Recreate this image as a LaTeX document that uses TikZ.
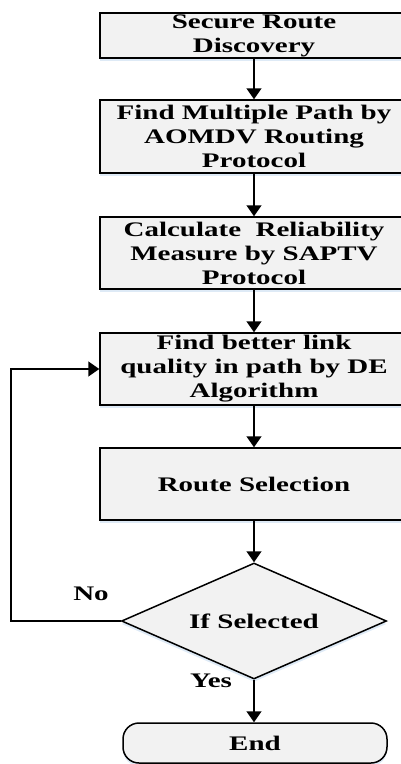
\documentclass[tikz,border=0pt]{standalone}
\usepackage{fontspec}
\usetikzlibrary{arrows.meta,shapes.geometric,shadows}
\newfontfamily\flowfont{Liberation Serif}[FakeStretch=1.4]
\definecolor{boxgray}{RGB}{242,242,242}
\definecolor{shadeblue}{RGB}{200,220,240}

\tikzset{
  flowbox/.style={draw, line width=1.5pt, fill=boxgray, align=center,
    minimum width=308pt, inner sep=0pt,
    drop shadow={shadow xshift=0pt, shadow yshift=-3pt, fill=shadeblue, opacity=.6}},
  flowtext/.style={font=\flowfont\bfseries\fontsize{20.7}{24}\selectfont},
  flowarrow/.style={line width=1.5pt, -{Triangle[width=15pt,length=11pt]}}
}

\begin{document}
\begin{tikzpicture}[x=1pt,y=-1pt]
  \useasboundingbox (0,0) rectangle (401,764);
  \clip (0,0) rectangle (401,764);
  \node[flowbox,flowtext,minimum height=45pt] (disc) at (254,35.5) {Secure Route\\Discovery};
  \node[flowbox,flowtext,minimum height=73pt] (aomdv) at (254,136.5) {Find Multiple Path by\\AOMDV Routing\\Protocol};
  \node[flowbox,flowtext,minimum height=72pt] (saptv) at (254,253) {Calculate~ Reliability\\Measure by SAPTV\\Protocol};
  \node[flowbox,flowtext,minimum height=72pt] (de) at (254,369) {Find better link\\quality in path by DE\\Algorithm};
  \node[flowbox,flowtext,minimum height=72pt] (select) at (254,484) {Route Selection};
  \node[flowbox,flowtext,diamond,aspect=2.28,minimum width=265pt,minimum height=116pt] (check) at (254,621) {If Selected};
  \node[flowbox,flowtext,minimum width=264pt,minimum height=40pt,rounded corners=16pt] (stop) at (255,743) {End};
  \node[flowtext] (no) at (91,594) {No};
  \node[flowtext] (yes) at (211,681) {Yes};
  \draw[flowarrow] (disc) -- (aomdv);
  \draw[flowarrow] (aomdv) -- (saptv);
  \draw[flowarrow] (saptv) -- (de);
  \draw[flowarrow] (de) -- (select);
  \draw[flowarrow] (select) -- (check);
  \draw[flowarrow] (check) -- (stop.north -| check.south);
  \draw[flowarrow] (check.west) -- ++(-110,0) |- (de.west);
\end{tikzpicture}
\end{document}
